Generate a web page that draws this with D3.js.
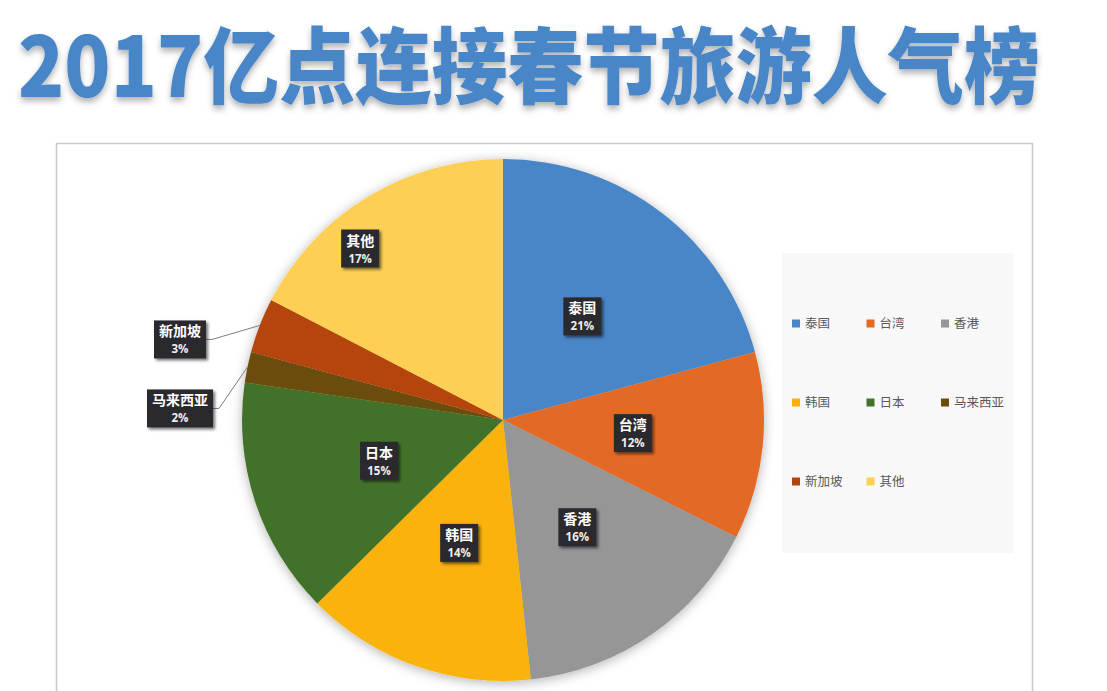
<!DOCTYPE html>
<html>
<head>
<meta charset="utf-8">
<script src="https://cdn.jsdelivr.net/npm/d3@7"></script>
<style>
  body { margin: 0; background: #fff; }
  svg { display: block; }
</style>
</head>
<body>
<div id="chart"></div>
<script>
const titleText = "2017亿点连接春节旅游人气榜";
const places = ["泰国", "台湾", "香港", "韩国", "日本", "马来西亚", "新加坡", "其他"];
const shares = [20.8, 11.6, 15.9, 14.3, 14.7, 1.9, 3.4, 17.4];
const colors = ["#4a86c8", "#e36a25", "#969696", "#fab20a", "#43722b", "#6b4d07", "#b4440f", "#fdd055"];

const width = 1107, height = 691;
const cx = 503, cy = 420, R = 261;

const svg = d3.select("#chart").append("svg")
  .attr("width", width)
  .attr("height", height);

const defs = svg.append("defs");
const pieShadow = defs.append("filter").attr("id", "pieShadow")
  .attr("x", "-20%").attr("y", "-20%").attr("width", "140%").attr("height", "140%");
pieShadow.append("feDropShadow")
  .attr("dx", 0).attr("dy", 2).attr("stdDeviation", 6)
  .attr("flood-color", "#000").attr("flood-opacity", 0.3);

const boxShadow = defs.append("filter").attr("id", "boxShadow")
  .attr("x", "-30%").attr("y", "-30%").attr("width", "160%").attr("height", "160%");
boxShadow.append("feDropShadow")
  .attr("dx", 2).attr("dy", 2).attr("stdDeviation", 1.5)
  .attr("flood-color", "#000").attr("flood-opacity", 0.55);

const titleShadow = defs.append("filter").attr("id", "titleShadow")
  .attr("x", "-5%").attr("y", "-20%").attr("width", "110%").attr("height", "150%");
titleShadow.append("feDropShadow")
  .attr("dx", 0).attr("dy", 4).attr("stdDeviation", 3)
  .attr("flood-color", "#000").attr("flood-opacity", 0.3);

// title
svg.append("text")
  .attr("x", 18)
  .attr("y", 97)
  .attr("textLength", 1022)
  .attr("lengthAdjust", "spacingAndGlyphs")
  .style("font-family", "'Noto Sans CJK SC', 'Noto Sans', sans-serif")
  .style("font-weight", 900)
  .style("font-size", "83px")
  .style("fill", "#4a86c8")
  .attr("filter", "url(#titleShadow)")
  .text(titleText);

// chart frame
svg.append("rect")
  .attr("x", 56.5).attr("y", 143.5)
  .attr("width", 976).attr("height", 560)
  .style("fill", "#fff")
  .style("stroke", "#c9c9c9")
  .style("stroke-width", 1.5);

const pie = d3.pie().sort(null).value(d => d.value);
const arcs = pie(places.map((p, i) => ({ name: p, value: shares[i], color: colors[i] })));
const total = d3.sum(shares);

const arc = d3.arc().innerRadius(0).outerRadius(R);
const labelArc = d3.arc().innerRadius(R * 0.5).outerRadius(R * 0.5);
const edgeArc = d3.arc().innerRadius(R).outerRadius(R);

const g = svg.append("g").attr("transform", `translate(${cx},${cy})`);

g.append("g").attr("filter", "url(#pieShadow)")
  .selectAll("path")
  .data(arcs)
  .join("path")
  .attr("d", arc)
  .style("fill", d => d.data.color);

// small slices get their labels outside with leader lines
const isSmall = d => d.data.value / total < 0.05;
// Excel pushed this one toward the rim
const labelNudge = { "其他": [-75, -60] };

let lastY = -Infinity;
const outerX = -R - 62;
arcs.filter(isSmall).reverse().forEach(d => {
  const e = edgeArc.centroid(d);
  let y = Math.max(e[1] + 14, lastY + 69);
  d.label = [outerX, y];
  lastY = y;
});
arcs.filter(d => !isSmall(d)).forEach(d => {
  const c = labelArc.centroid(d);
  const n = labelNudge[d.data.name] || [0, 0];
  d.label = [c[0] + n[0], c[1] + n[1]];
});

const labels = g.selectAll("g.lbl")
  .data(arcs)
  .join("g")
  .attr("class", "lbl")
  .attr("transform", d => `translate(${d.label[0]},${d.label[1]})`);

labels.each(function(d) {
  const sel = d3.select(this);
  const w = d.data.name.length * 14 + 10;
  const h = 38;
  if (isSmall(d)) {
    const e = edgeArc.centroid(d);
    const x0 = w / 2;
    g.insert("polyline", "g.lbl")
      .attr("points", [[d.label[0] + x0, d.label[1]], [d.label[0] + x0 + 6, d.label[1]], e].map(p => p.join(",")).join(" "))
      .style("fill", "none")
      .style("stroke", "#7f7f7f")
      .style("stroke-width", 1);
  }
  sel.append("rect")
    .attr("x", -w / 2).attr("y", -h / 2)
    .attr("width", w).attr("height", h)
    .style("fill", "#2c2c2e")
    .attr("filter", "url(#boxShadow)");
  sel.append("text")
    .attr("y", -3)
    .attr("text-anchor", "middle")
    .style("font-family", "'Noto Sans CJK SC', sans-serif")
    .style("font-weight", 700)
    .style("font-size", "14px")
    .style("fill", "#fff")
    .text(d.data.name);
  sel.append("text")
    .attr("y", 14)
    .attr("text-anchor", "middle")
    .style("font-family", "'Open Sans', 'Noto Sans', sans-serif")
    .style("font-weight", 700)
    .style("font-size", "11.5px")
    .style("fill", "#eeeeee")
    .text(Math.round(d.data.value / total * 100) + "%");
});

// legend
const legend = svg.append("g");
legend.append("rect")
  .attr("x", 782).attr("y", 253)
  .attr("width", 231).attr("height", 300)
  .style("fill", "#f8f8f8");

const cols = 3, colW = 74.5, rowH = 79;
const items = legend.selectAll("g.item")
  .data(places)
  .join("g")
  .attr("class", "item")
  .attr("transform", (d, i) => `translate(${792 + (i % cols) * colW},${324 + Math.floor(i / cols) * rowH})`);

items.append("rect")
  .attr("x", 0).attr("y", -4.5)
  .attr("width", 8).attr("height", 8)
  .style("fill", (d, i) => colors[i]);

items.append("text")
  .attr("x", 13)
  .attr("dy", "0.35em")
  .style("font-family", "'Noto Sans CJK SC', sans-serif")
  .style("font-size", "12.5px")
  .style("fill", "#595959")
  .text(d => d);
</script>
</body>
</html>
